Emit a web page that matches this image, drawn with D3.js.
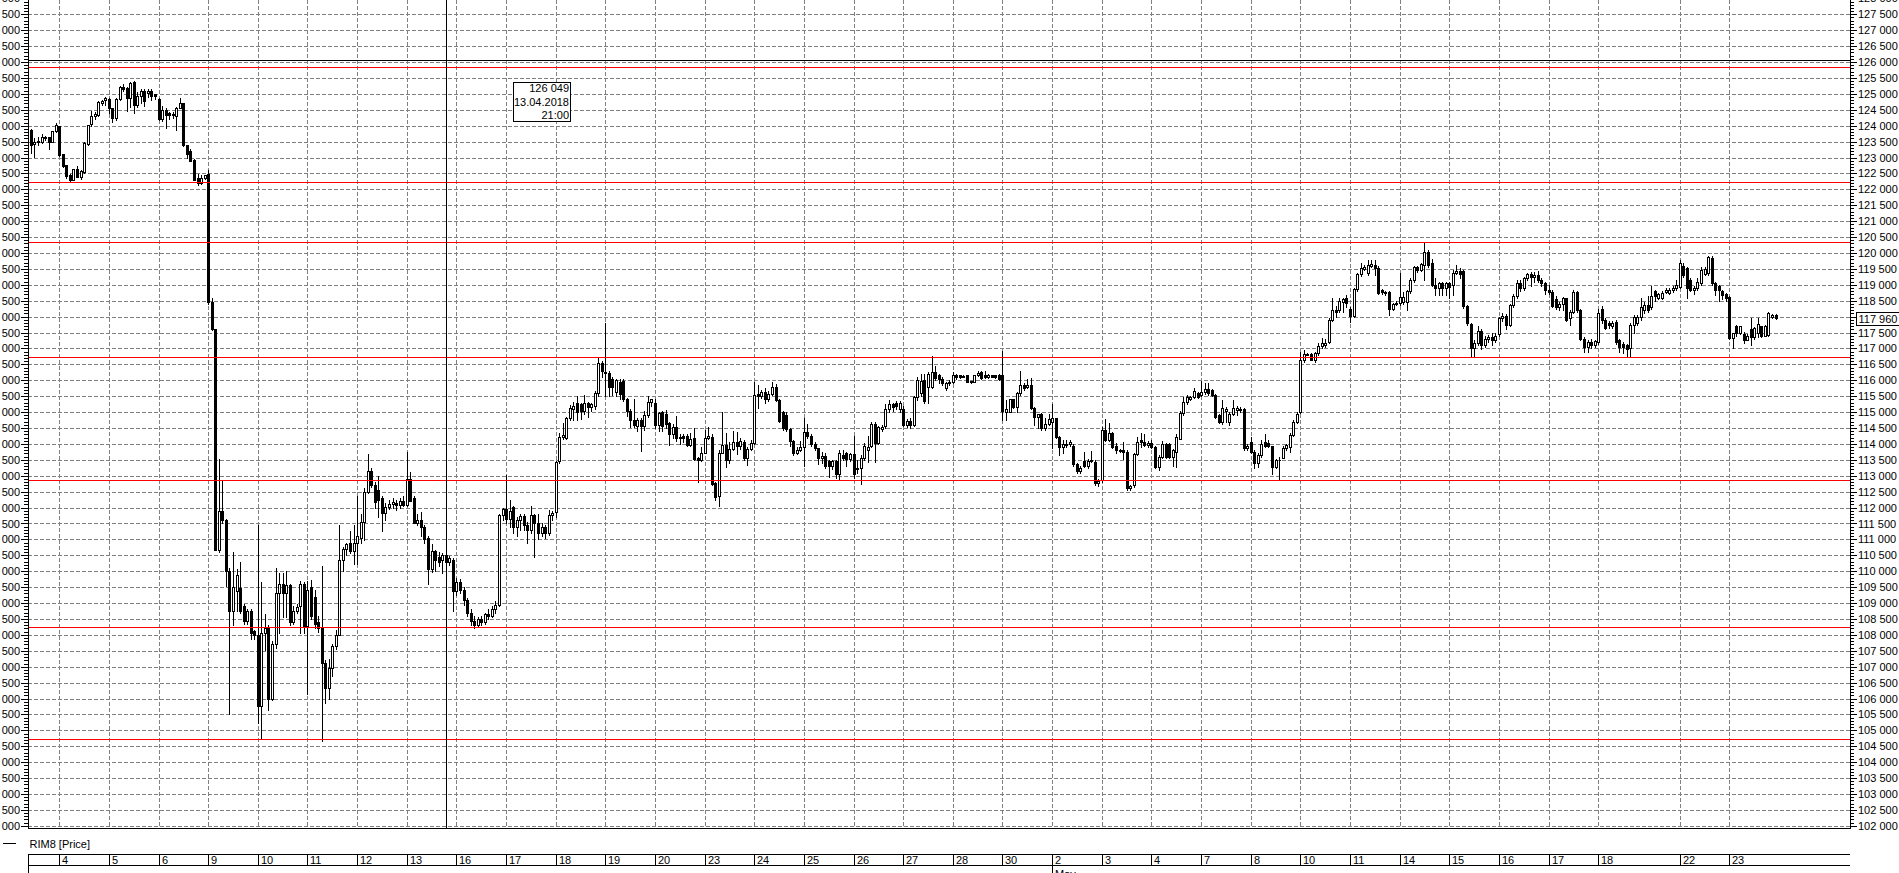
<!DOCTYPE html>
<html><head><meta charset="utf-8">
<script src="https://cdn.jsdelivr.net/npm/d3@7"></script>
<style>
html,body{margin:0;padding:0;background:#fff;overflow:hidden}
svg{display:block;font-family:"Liberation Sans",Arial,sans-serif;font-size:11px}
</style></head><body>
<svg id="chart" width="1899" height="873"></svg>
<script>
// ---------- DATA ----------
const seriesName = "RIM8 [Price]";
// trading days shown on the time axis ("" = partial first day, unlabeled)
const dayLabels    = ["", "4","5","6","9","10","11","12","13","16","17","18","19","20","23","24","25","26","27","28","30","2","3","4","7","8","10","11","14","15","16","17","18","22","23"];
const dayBarCounts = [8, 14,14,14,14,14,14,14,14,14,14,14,14,14,14,14,14,14,14,14,14,14,14,14,14,14,14,14,14,14,14,14,23,14,14];
const monthLabels   = ["May"];
const monthStartDay = [21];          // index in dayLabels where the month begins
const levelLines = [125840, 122220, 120340, 116720, 112855, 108235, 104740];
const lastPrice = 117960;
const crosshairPrice = 126049;
const crosshairBar = 117;            // 13.04.2018 21:00
const tooltipLines = ["126 049", "13.04.2018", "21:00"];
const priceMin = 102000, priceMax = 128000, priceStep = 500, minorStep = 100;

// hourly candles [open, high, low, close]
const candles = [
// Apr 3
[123870,123890,123130,123400],[123420,123600,123030,123500],[123500,123650,123400,123530],[123500,123730,123450,123630],
[123600,123680,123560,123640],[123640,123660,123270,123500],[123500,123830,123480,123820],[123820,124080,123800,124030],
// Apr 4
[123990,124000,123050,123090],[123100,123120,122700,122740],[122760,122780,122360,122420],[122450,122480,122250,122300],
[122300,122650,122280,122630],[122630,122740,122380,122400],[122400,122600,122330,122570],[122530,123480,122500,123470],
[123440,124030,123400,124020],[124040,124460,123980,124300],[124290,124420,124200,124360],[124330,124760,124300,124730],
[124700,124800,124650,124760],[124810,124900,124660,124880],
// Apr 5
[124840,124860,124400,124550],[124550,124560,124110,124240],[124240,124860,124180,124840],[124840,125260,124800,125230],
[125200,125300,125100,125150],[125170,125200,124460,124880],[124880,125360,124600,125330],[125360,125400,124400,124640],
[124640,125050,124600,124940],[124940,125160,124720,125100],[125100,125150,124620,124770],[125040,125150,124900,125100],
[125100,125140,124800,124920],[124980,125000,124850,124920],
// Apr 6
[124840,124860,124180,124210],[124200,124620,124140,124480],[124480,124560,123920,124340],[124400,124420,124200,124320],
[124380,124420,124250,124340],[124300,124580,123850,124560],[124560,124880,124540,124700],[124700,124720,123360,123380],
[123380,123400,123000,123120],[123200,123270,122880,122900],[122920,122950,122280,122290],[122350,122480,122150,122190],
[122190,122450,122160,122370],[122360,122460,122340,122440],
// Apr 9
[122490,122600,118400,118450],[118450,118580,117580,117600],[117600,117620,110660,110660],[110660,113540,110600,111880],
[111880,112870,111500,111600],[111600,111650,109520,110010],[110010,110100,105510,108760],[108760,110600,108300,109500],
[109385,110070,108760,109870],[109460,110300,108700,108760],[108900,108970,108350,108420],[108420,108800,108350,108760],
[108760,108800,107860,108070],[108110,108150,107860,108000],
// Apr 10
[108000,111460,105230,105750],[105750,109660,104750,108070],[108070,108650,107520,108200],[108200,108300,105650,106000],
[106000,107800,105950,107720],[107720,110100,107600,109320],[109320,109940,108070,109590],[109590,109940,108550,109320],
[109320,110000,108560,109580],[109580,109600,108300,108400],[108400,108900,108330,108740],[108740,108960,108700,108880],
[108900,109700,108070,109590],[109590,109650,108070,108280],
// Apr 11
[108280,109700,106130,109400],[109500,109720,108500,108600],[109190,109400,108200,108350],[108400,108600,108100,108200],
[108200,110150,104680,107130],[107130,107200,105860,106340],[106340,107240,106000,106960],[106960,107700,106700,107650],
[107650,108140,107550,108000],[108000,111460,107980,110350],[110350,110770,110010,110700],[110700,110900,110500,110840],
[110900,111250,110560,110630],[110630,111460,110220,110900],
// Apr 12
[110900,112360,110220,111100],[111050,111800,110900,111550],[111550,112600,110980,112500],[112500,113670,112450,113160],
[113160,113230,112650,112700],[112700,112800,112000,112180],[112560,112980,111700,112230],[112290,112350,111250,111840],
[111840,112150,111600,112010],[112010,112250,111950,112100],[112100,112300,112000,112190],[112150,112240,111920,112080],
[112080,112300,112000,112200],[112200,112350,112050,112080],
// Apr 13
[112080,113740,112050,112900],[112900,113120,112200,112220],[112290,112350,111500,111530],[111530,111800,111450,111620],
[111620,111850,111100,111400],[111400,111450,110900,111000],[111050,111100,109590,110070],[110070,110840,109990,110630],
[110630,110670,110000,110350],[110450,110600,110150,110280],[110350,110560,109940,110500],[110500,110560,110200,110280],
[110280,110480,110200,110420],[110350,110420,108760,109380],
// Apr 16
[109380,109800,109250,109650],[109650,109750,109300,109400],[109400,109500,108950,109100],[109100,109150,108600,108700],
[108700,108800,108300,108450],[108450,108600,108230,108300],[108300,108550,108250,108500],[108500,108600,108300,108400],
[108400,108700,108350,108650],[108650,108800,108500,108600],[108600,108900,108550,108800],[108800,109050,108700,108950],
[108950,111800,108900,111770],[111770,112000,111600,111970],
// Apr 17
[111970,113010,111500,111650],[111650,112240,111400,111900],[112030,112050,111200,111400],[111400,111700,111100,111600],
[111600,111800,111300,111750],[111750,111800,111300,111450],[111450,111550,110900,111300],[111300,112060,111200,111760],
[111760,111800,110450,111500],[111500,111810,111000,111200],[111200,111500,111100,111400],[111400,111450,111050,111200],
[111200,111920,111150,111760],[111760,111900,111600,111820],
// Apr 18
[111870,113450,111700,113440],[113470,114350,113400,114230],[114230,114650,114150,114280],[114200,114850,114150,114800],
[114800,115220,114750,115120],[115100,115330,114750,115200],[115300,115520,114760,115000],[115250,115300,114770,115050],
[115050,115530,114950,115300],[115300,115320,114850,115150],[115150,115300,115050,115250],[115200,115650,115100,115590],
[115590,116720,115500,116550],[116550,116620,116100,116300],
// Apr 19
[116270,117800,115520,116220],[116220,116300,115500,115790],[116050,116100,115550,115790],[115620,116050,115500,116000],
[115950,116050,115400,115580],[115970,116050,115350,115400],[115400,115450,114870,115030],[115030,115100,114520,114760],
[114760,115400,114520,114600],[114570,114830,114400,114760],[114760,114800,113780,114570],[114570,115050,114450,114900],
[114900,115500,114850,115320],[115320,115420,115200,115400],
// Apr 20
[115300,115420,114500,114580],[114600,115000,114400,114970],[115000,115050,114400,114570],[114950,115070,114500,114620],
[114650,114700,113960,114300],[114300,114620,114200,114540],[114540,114880,114100,114200],[114230,114300,114000,114190],
[114250,114300,114050,114180],[114260,114300,113920,113960],[113960,114330,113950,114170],[114200,114500,113480,113520],
[113550,113580,112790,113500],[113500,113900,113450,113720],
// Apr 23
[113720,114450,113700,114190],[114190,114530,114150,114250],[114220,114300,112700,112740],[112760,112800,112250,112340],
[112350,113800,112050,113710],[113710,114990,113700,113960],[113960,114330,113270,113510],[113510,114050,113400,113840],
[113840,114400,113800,114050],[114050,114370,113680,113920],[113920,114200,113850,114100],[114070,114120,113500,113560],
[113560,113900,113350,113840],[113840,114120,113800,114030],
// Apr 24
[114030,115950,114000,115540],[115560,115840,115120,115520],[115520,115700,115450,115630],[115620,115760,115300,115400],
[115400,115650,115350,115580],[115580,115960,115550,115800],[115800,115880,115350,115380],[115380,115400,114680,114730],
[115000,115050,114450,114500],[114920,115000,114400,114470],[114470,114500,113950,114100],[114100,114130,113650,113710],
[113710,113900,113680,113800],[113800,114100,113780,113900],
// Apr 25
[113900,114800,113310,114360],[114360,114620,114200,114250],[114250,114300,113950,114000],[114000,114050,113800,113860],
[113860,113880,113380,113560],[113560,113750,113400,113620],[113620,113700,113250,113300],[113450,113500,112960,113300],
[113300,113500,113200,113450],[113450,113500,112920,113040],[113040,113800,112880,113720],[113660,113820,113500,113560],
[113700,113750,113300,113520],[113520,113720,113450,113680],
// Apr 26
[113680,114250,112920,113040],[113200,113500,113080,113250],[113250,113660,112740,113560],[113560,114030,113500,113930],
[113800,114250,113420,113900],[113930,114700,113900,114620],[114620,114700,113420,114040],[114040,114560,114000,114520],
[114480,114600,114420,114520],[114570,115260,114500,115100],[115100,115390,115000,115250],[115250,115300,115050,115170],
[115300,115360,115100,115200],[115100,115350,115000,115280],
// Apr 27
[115100,115200,114550,114600],[114600,114780,114540,114730],[114730,114800,114500,114600],[114600,115500,114550,115470],
[115470,116100,115370,116000],[115600,116200,115500,115990],[116000,116200,115300,115360],[115780,116250,115290,116200],
[115800,116750,115750,116250],[116250,116450,116000,116070],[116150,116200,115900,116050],[116050,116100,115860,115900],
[115750,115950,115700,115900],[115900,116000,115850,115960],
// Apr 28
[115950,116250,115900,116150],[116150,116200,116050,116100],[116150,116160,116080,116100],[116130,116150,116090,116110],
[116150,116180,115930,115950],[115970,115990,115900,115940],[115950,116180,115930,116160],[116160,116280,116130,116220],
[116250,116290,116050,116080],[116150,116280,116060,116110],[116110,116200,116080,116160],[116160,116180,116090,116110],
[116150,116170,116080,116100],[116150,116200,116000,116050],
// Apr 30
[116160,116930,114760,115020],[115010,115380,114750,115090],[115010,115420,114990,115400],[115400,115420,115120,115150],
[115170,115620,115010,115590],[115590,116300,115550,115850],[115850,115900,115700,115750],[115780,116050,115750,115850],
[115850,116060,115090,115120],[115120,115150,114590,114840],[114840,114950,114490,114940],[114940,114970,114450,114490],
[114490,114800,114450,114620],[114620,114940,114600,114770],
// May 2
[114680,115250,113860,114800],[114800,114820,114200,114230],[114230,114250,113650,113910],[113910,114120,113700,113990],
[113970,114120,113900,114000],[114000,114120,113950,114050],[113950,114000,113300,113370],[113370,113400,113080,113160],
[113160,113300,113100,113240],[113450,113750,113280,113300],[113300,113520,113250,113450],[113450,113790,113420,113500],
[113440,113500,112700,112780],[112780,112900,112680,112830],
// May 3
[112860,114520,112800,114440],[114440,114770,114100,114120],[114120,114650,114080,114350],[114350,114380,113880,113910],
[113930,114030,113700,113800],[113800,113830,113740,113780],[113820,114070,113530,113760],[113760,113800,112550,112600],
[112600,112720,112560,112680],[112710,113720,112650,113680],[113680,114230,113650,114070],[114120,114330,113910,114070],
[114070,114310,113930,113960],[113960,114100,113900,114020],
// May 4
[114020,114120,113870,113910],[113910,113950,113250,113280],[113280,113640,113180,113600],[113600,114100,113550,114000],
[114000,114030,113550,113600],[113990,114030,113560,113600],[113600,113850,113300,113800],[113760,114300,113280,114230],
[114170,115050,114150,114960],[114960,115470,114900,115330],[115330,115540,115250,115480],[115420,115520,115380,115480],
[115480,115750,115450,115670],[115590,115620,115450,115470],
// May 7
[115530,115990,115500,115640],[115640,115900,115580,115740],[115740,115900,115550,115590],[115690,115720,115500,115540],
[115530,115560,114800,114850],[114900,114950,114650,114700],[114700,115380,114640,115120],[115020,115170,114700,115110],
[114700,115000,114590,114950],[114950,115380,114900,115120],[115080,115200,114900,115120],[115060,115150,115000,115100],
[115090,115120,113800,113860],[113860,114000,113820,113950],
// May 8
[114070,114230,113700,113760],[113760,113800,113250,113410],[113410,113700,113290,113650],[113650,114120,113600,114000],
[114060,114310,113900,113950],[114020,114130,113900,113950],[113935,113950,113070,113290],[113290,113520,113230,113490],
[113490,113600,112860,113500],[113570,113930,113550,113860],[113860,114000,113800,113960],[113910,114330,113750,114280],
[114280,114750,114250,114700],[114700,115010,114650,114940],
// May 10
[115010,116900,114970,116640],[116640,116950,116580,116810],[116800,116870,116780,116840],[116820,116870,116630,116650],
[116650,116900,116580,116850],[116850,117160,116800,117070],[117070,117320,117000,117180],[117100,117300,117050,117180],
[117210,117950,117180,117900],[117900,118600,117870,118210],[118210,118320,118000,118140],[118210,118600,118150,118500],
[118450,118580,118150,118540],[118580,118680,118290,118420],
// May 11
[118240,118300,117840,118020],[118020,118900,117990,118860],[118860,119380,118800,119330],[119330,119680,119280,119520],
[119500,119620,119460,119550],[119360,119780,119310,119620],[119600,119780,119560,119650],[119620,119780,119310,119520],
[119540,119600,118700,118750],[118840,118860,118720,118760],[118780,118800,118680,118730],[118780,118820,118050,118230],
[118230,118430,118200,118400],[118400,118480,118350,118440],
// May 14
[118440,119360,118360,118610],[118470,118780,118400,118630],[118470,118850,118210,118820],[118790,119200,118750,119150],
[119150,119580,119100,119550],[119550,119600,119400,119470],[119470,119700,119430,119650],[119620,120300,119150,120040],
[120040,120100,119550,119620],[119675,119800,118950,118990],[119000,119200,118680,118890],[118890,119100,118680,119050],
[119050,119100,118680,118890],[118890,119100,118680,119060],
// May 15
[119070,119100,118580,118920],[118990,119450,118680,119380],[119380,119620,119350,119420],[119440,119520,119200,119340],
[119440,119470,118280,118330],[118330,118360,117750,117790],[117770,117800,116740,117000],[117000,117250,116750,117170],
[117170,117700,117100,117560],[117560,117600,116980,117120],[117120,117400,117050,117300],[117300,117420,117200,117350],
[117370,117500,117100,117250],[117250,117480,117200,117400],
// May 16
[117450,118000,117400,117950],[117950,118100,117850,118020],[118020,118080,117600,117750],[117750,118400,117700,118350],
[118350,118700,118300,118650],[118650,119150,118600,119050],[119050,119150,118800,118900],[118900,119250,118850,119200],
[119200,119380,119150,119350],[119350,119400,118950,119250],[119250,119400,119100,119300],[119300,119420,119100,119150],
[119150,119200,118950,119050],[119050,119100,118700,118850],
// May 17
[118850,119000,118700,118780],[118780,118850,118300,118330],[118550,118650,118250,118300],[118300,118450,118200,118400],
[118400,118620,118200,118580],[118580,118600,117850,117900],[117950,118200,117750,118150],[118150,118850,118100,118780],
[118780,118800,118150,118200],[118200,118250,117250,117300],[117300,117350,116900,117050],[117050,117250,116900,117200],
[117200,117300,117000,117100],[117100,117280,117050,117230],
// May 18 (incl. 21)
[117210,118250,117150,118120],[118250,118330,117800,117900],[117900,117950,117600,117650],[117800,117850,117650,117750],
[117700,117850,117650,117800],[117840,117880,117150,117210],[117250,117300,116900,117060],[117150,117200,116850,117060],
[117100,117150,116760,116980],[117000,117800,116760,117740],[117740,118050,117500,117980],[117800,118050,117750,118000],
[118000,118600,117900,118300],[118200,118450,118100,118350],[118350,118650,118150,118200],[118300,118950,118250,118650],
[118800,118850,118500,118650],[118600,118750,118550,118700],[118600,118800,118550,118750],[118780,118900,118750,118830],
[118750,118900,118700,118830],[118830,118950,118780,118900],[118900,119150,118850,118990],
// May 22
[118940,119780,118900,119680],[119600,119700,119250,119300],[119520,119550,118570,118890],[119150,119200,118800,118840],
[118840,118950,118700,118900],[118900,119200,118850,119100],[119050,119550,119000,119480],[119350,119550,119300,119500],
[119360,119900,119300,119880],[119850,119900,119000,119050],[119050,119100,118680,118850],[118950,119000,118500,118850],
[118800,118850,118550,118680],[118700,118750,118500,118600],
// May 23
[118630,118650,117300,117320],[117320,117500,117000,117480],[117690,117750,117400,117480],[117480,117720,117450,117690],
[117450,117520,117180,117270],[117270,117450,117250,117400],[117600,117950,117100,117360],[117360,117680,117300,117640],
[117470,117950,117350,117770],[117690,117700,117350,117400],[117400,117750,117380,117700],[117420,118160,117400,118100],
[117990,118080,117950,118050],[118060,118080,117940,117960]
];

// ---------- LAYOUT ----------
const svg = d3.select("#chart");
const W = 1899, H = 873;
const plotL = 28, plotR = 1850, plotB = 828;
svg.append("rect").attr("width", W).attr("height", H).attr("fill", "#fff");

const nBars = candles.length;
const x = d3.scaleLinear().domain([0, 492]).range([30.9, 1775.5]);
const y = d3.scaleLinear().domain([102000, 127500]).range([825.8, 14.3]);
const px = i => Math.round(x(i));
const py = v => Math.round(y(v));

// day start bar indices
const dayStart = [];
{ let acc = 0; dayBarCounts.forEach(c => { dayStart.push(acc); acc += c; }); }

const gridColor = "#808080";
const g = svg.append("g").attr("shape-rendering", "crispEdges");

// horizontal grid
const majorTicks = d3.range(priceMin, priceMax + 1, priceStep);
g.append("g").selectAll("line").data(majorTicks).join("line")
  .attr("x1", plotL).attr("x2", plotR)
  .attr("y1", d => py(d) + 0.5).attr("y2", d => py(d) + 0.5)
  .attr("stroke", gridColor).attr("stroke-dasharray", "4,2");

// vertical grid at day starts
const daySeps = dayStart.slice(1);
g.append("g").selectAll("line").data(daySeps).join("line")
  .attr("x1", d => px(d) + 0.5).attr("x2", d => px(d) + 0.5)
  .attr("y1", 0).attr("y2", plotB)
  .attr("stroke", gridColor).attr("stroke-dasharray", "4,2");

// candles
const cg = g.append("g");
candles.forEach((c, i) => {
  const [o, h, l, cl] = c;
  const cx = px(i);
  cg.append("line").attr("x1", cx + 0.5).attr("x2", cx + 0.5)
    .attr("y1", py(h)).attr("y2", py(l) + 1).attr("stroke", "#000");
  const top = py(Math.max(o, cl)) + 0.5, bot = py(Math.min(o, cl)) + 0.5;
  const x0 = cx - 0.5, x1 = cx + 1.5;
  cg.append("path").attr("d", `M${x0},${top}H${x1}V${bot}H${x0}Z`)
    .attr("fill", cl < o ? "#000" : "#fff").attr("stroke", "#000");
});

// horizontal level lines
g.append("g").selectAll("line").data(levelLines).join("line")
  .attr("x1", plotL).attr("x2", plotR)
  .attr("y1", d => py(d) + 0.5).attr("y2", d => py(d) + 0.5)
  .attr("stroke", "#f00");

// crosshair
const chX = px(crosshairBar) + 0.5, chY = py(crosshairPrice) + 0.5;
g.append("line").attr("x1", plotL).attr("x2", plotR).attr("y1", chY).attr("y2", chY).attr("stroke", "#000");
g.append("line").attr("x1", chX).attr("x2", chX).attr("y1", 0).attr("y2", plotB).attr("stroke", "#000");

// tooltip
const tb = svg.append("g").attr("transform", `translate(${Math.round(chX) + 66},${Math.round(chY) + 21})`);
tb.append("rect").attr("x", 0.5).attr("y", 0.5).attr("width", 57).attr("height", 39)
  .attr("fill", "#fff").attr("stroke", "#000").attr("shape-rendering", "crispEdges");
tb.selectAll("text").data(tooltipLines).join("text")
  .attr("x", 56).attr("y", (d, i) => 10 + i * 13.5)
  .attr("text-anchor", "end").attr("fill", "#000").text(d => d);

// axes
const fmt = v => { const t = Math.floor(v / 1000), r = v % 1000; return t + " " + String(r).padStart(3, "0"); };
const minorTicks = d3.range(priceMin, priceMax + 1, minorStep).filter(v => v % priceStep !== 0);

const axR = svg.append("g").attr("transform", `translate(${plotR},0)`);
axR.call(d3.axisRight(y).tickValues(majorTicks).tickSize(7).tickSizeOuter(0).tickPadding(1).tickFormat(fmt));
const axRm = svg.append("g").attr("transform", `translate(${plotR},0)`);
axRm.call(d3.axisRight(y).tickValues(minorTicks).tickSize(4).tickSizeOuter(0).tickFormat(""));
const axL = svg.append("g").attr("transform", `translate(${plotL},0)`);
axL.call(d3.axisLeft(y).tickValues(majorTicks).tickSize(7).tickSizeOuter(0).tickPadding(1).tickFormat(fmt));
const axLm = svg.append("g").attr("transform", `translate(${plotL},0)`);
axLm.call(d3.axisLeft(y).tickValues(minorTicks).tickSize(4).tickSizeOuter(0).tickFormat(""));
[axR, axRm, axL, axLm].forEach(a => {
  a.select(".domain").remove();
  a.attr("font-family", null).attr("font-size", null);
  a.selectAll("line").attr("stroke", "#000").attr("shape-rendering", "crispEdges");
  a.selectAll("text").attr("fill", "#000");
});

// frame lines
g.append("line").attr("x1", plotL + 0.5).attr("x2", plotL + 0.5).attr("y1", 0).attr("y2", plotB + 1).attr("stroke", "#000");
g.append("line").attr("x1", plotR + 0.5).attr("x2", plotR + 0.5).attr("y1", 0).attr("y2", plotB + 1).attr("stroke", "#000");
g.append("line").attr("x1", plotL).attr("x2", plotR + 1).attr("y1", plotB + 0.5).attr("y2", plotB + 0.5).attr("stroke", "#000");

// last price tag
const tagY = py(lastPrice);
svg.append("rect").attr("x", 1856.5).attr("y", tagY - 6 + 0.5).attr("width", 60).attr("height", 12.5)
  .attr("fill", "#fff").attr("stroke", "#000").attr("shape-rendering", "crispEdges");
svg.append("text").attr("x", 1858.5).attr("y", tagY + 4.5).attr("fill", "#000").text(fmt(lastPrice));

// legend
svg.append("line").attr("x1", 3).attr("x2", 16).attr("y1", 843.5).attr("y2", 843.5)
  .attr("stroke", "#000").attr("shape-rendering", "crispEdges");
svg.append("text").attr("x", 29.5).attr("y", 847.5).attr("fill", "#000").text(seriesName);

// time axis
const ta = svg.append("g").attr("shape-rendering", "crispEdges");
ta.append("line").attr("x1", plotL).attr("x2", plotR).attr("y1", 854.5).attr("y2", 854.5).attr("stroke", "#000");
ta.append("line").attr("x1", plotL).attr("x2", plotR).attr("y1", 865.5).attr("y2", 865.5).attr("stroke", "#000");
ta.append("line").attr("x1", plotL + 0.5).attr("x2", plotL + 0.5).attr("y1", 854).attr("y2", H).attr("stroke", "#000");
dayLabels.forEach((lab, k) => {
  if (k === 0) return;
  const sx = px(dayStart[k]) + 0.5;
  ta.append("line").attr("x1", sx).attr("x2", sx).attr("y1", 854).attr("y2", 866).attr("stroke", "#000");
  svg.append("text").attr("x", sx + 2.5).attr("y", 864).attr("fill", "#000").text(lab);
});
monthLabels.forEach((m, k) => {
  const sx = px(dayStart[monthStartDay[k]]) + 0.5;
  ta.append("line").attr("x1", sx).attr("x2", sx).attr("y1", 866).attr("y2", H).attr("stroke", "#000");
  svg.append("text").attr("x", sx + 2.5).attr("y", 878).attr("fill", "#000").text(m);
});
</script>
</body></html>
